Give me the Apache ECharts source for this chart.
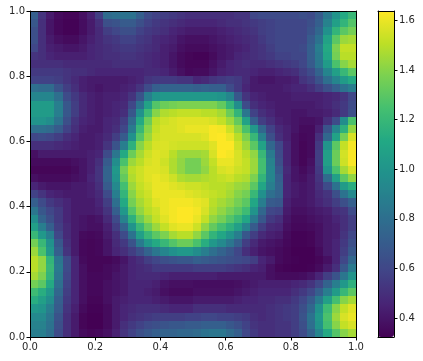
<!DOCTYPE html>
<html><head><meta charset="utf-8">
<style>html,body{margin:0;padding:0;background:#fff}#c{width:423px;height:361px;filter:blur(.4px)}</style>
<script src="https://cdn.jsdelivr.net/npm/echarts@6/dist/echarts.min.js"></script>
</head><body><div id="c"></div>
<script>
const rowsTopToBottom = [
[.72,.52,.42,.36,.34,.34,.38,.44,.56,.78,.80,.82,.82,.72,.62,.58,.56,.54,.52,.50,.50,.50,.50,.50,.50,.52,.52,.60,.62,.62,.62,.62,.62,.64,.62,.70,.85,1.00,1.12,1.20],
[.68,.50,.40,.35,.33,.33,.37,.42,.50,.64,.66,.70,.70,.64,.58,.54,.52,.50,.48,.46,.46,.46,.46,.48,.50,.50,.52,.54,.56,.58,.60,.60,.60,.60,.64,.72,.90,1.06,1.18,1.28],
[.64,.50,.40,.35,.33,.33,.37,.42,.48,.56,.60,.64,.64,.58,.54,.52,.50,.46,.44,.42,.42,.42,.42,.44,.46,.48,.50,.52,.56,.58,.60,.60,.60,.60,.66,.76,.98,1.18,1.30,1.36],
[.64,.50,.42,.38,.36,.36,.40,.44,.48,.52,.54,.58,.58,.54,.52,.48,.46,.44,.40,.38,.38,.38,.40,.42,.44,.46,.48,.50,.54,.58,.60,.60,.60,.60,.70,.82,1.08,1.30,1.44,1.46],
[.60,.50,.44,.42,.40,.40,.42,.46,.48,.50,.52,.54,.54,.52,.50,.48,.44,.42,.38,.36,.36,.36,.38,.40,.42,.44,.46,.50,.52,.56,.60,.60,.60,.62,.72,.88,1.12,1.38,1.52,1.52],
[.52,.50,.46,.44,.44,.44,.44,.46,.48,.50,.50,.52,.52,.50,.48,.46,.44,.40,.36,.34,.33,.33,.36,.40,.42,.46,.48,.50,.52,.54,.58,.58,.60,.60,.72,.86,1.10,1.36,1.50,1.50],
[.50,.50,.50,.50,.48,.48,.48,.48,.48,.48,.50,.50,.50,.50,.48,.46,.44,.40,.36,.34,.34,.34,.38,.42,.46,.48,.50,.48,.48,.50,.52,.54,.56,.60,.70,.84,1.04,1.26,1.40,1.46],
[.54,.54,.54,.54,.52,.50,.50,.48,.46,.46,.46,.46,.46,.46,.48,.48,.46,.42,.38,.35,.36,.36,.40,.44,.46,.48,.48,.46,.44,.44,.46,.48,.50,.56,.62,.74,.92,1.06,1.20,1.30],
[.58,.58,.58,.56,.52,.48,.44,.42,.42,.42,.42,.42,.44,.46,.52,.54,.54,.54,.52,.52,.46,.48,.52,.54,.56,.54,.48,.42,.40,.40,.42,.42,.44,.52,.56,.66,.80,.92,1.04,1.12],
[.80,.78,.78,.66,.56,.50,.44,.42,.40,.42,.42,.44,.46,.52,.62,.72,.74,.74,.74,.74,.72,.74,.72,.72,.62,.54,.46,.42,.42,.42,.42,.44,.46,.46,.50,.56,.64,.72,.82,.88],
[.92,.92,.92,.80,.62,.54,.48,.44,.42,.44,.44,.46,.52,.66,.88,1.00,1.02,1.02,1.02,1.02,1.02,1.02,1.02,1.00,.92,.68,.52,.46,.44,.42,.42,.42,.44,.44,.44,.44,.46,.48,.52,.60],
[1.04,1.04,1.04,.88,.68,.56,.48,.44,.42,.44,.46,.48,.60,.82,1.08,1.28,1.34,1.36,1.38,1.38,1.38,1.38,1.38,1.32,1.18,.96,.62,.50,.46,.44,.42,.42,.42,.42,.42,.44,.46,.50,.54,.62],
[1.04,1.04,1.04,.88,.68,.56,.48,.44,.42,.44,.46,.50,.68,.98,1.22,1.40,1.48,1.50,1.52,1.52,1.52,1.50,1.50,1.46,1.34,1.18,.84,.58,.50,.46,.42,.42,.40,.40,.42,.42,.44,.48,.54,.64],
[1.00,1.00,.96,.82,.64,.52,.46,.44,.42,.46,.48,.56,.78,1.12,1.34,1.50,1.54,1.56,1.58,1.58,1.58,1.58,1.56,1.52,1.44,1.32,1.08,.72,.56,.50,.44,.42,.40,.38,.38,.40,.50,.62,.96,1.26],
[.80,.80,.78,.70,.58,.50,.44,.42,.42,.46,.50,.60,.86,1.20,1.40,1.52,1.56,1.56,1.58,1.60,1.60,1.60,1.63,1.62,1.54,1.42,1.26,1.02,.76,.58,.48,.44,.40,.36,.36,.44,.66,.92,1.16,1.42],
[.60,.62,.60,.56,.50,.46,.42,.42,.44,.48,.56,.70,.98,1.28,1.44,1.54,1.56,1.56,1.56,1.56,1.56,1.58,1.63,1.64,1.60,1.50,1.38,1.20,.90,.64,.50,.44,.38,.35,.36,.50,.76,1.08,1.36,1.56],
[.50,.50,.50,.48,.46,.44,.42,.42,.44,.52,.66,.88,1.16,1.40,1.50,1.56,1.57,1.55,1.54,1.54,1.54,1.54,1.58,1.64,1.64,1.54,1.44,1.30,1.08,.76,.60,.46,.38,.34,.36,.54,1.00,1.30,1.52,1.62],
[.38,.42,.42,.42,.42,.42,.42,.44,.46,.62,.84,1.12,1.34,1.46,1.54,1.58,1.56,1.50,1.44,1.44,1.44,1.46,1.56,1.64,1.62,1.56,1.50,1.42,1.20,.86,.62,.46,.38,.34,.36,.56,1.06,1.34,1.55,1.63],
[.36,.36,.36,.36,.36,.38,.40,.44,.50,.70,.96,1.26,1.44,1.50,1.56,1.58,1.54,1.48,1.42,1.36,1.36,1.44,1.52,1.60,1.60,1.56,1.52,1.44,1.24,.90,.64,.46,.38,.34,.38,.56,1.06,1.34,1.54,1.63],
[.34,.34,.34,.34,.34,.36,.40,.44,.52,.74,1.02,1.36,1.50,1.54,1.58,1.58,1.56,1.48,1.42,1.36,1.36,1.42,1.50,1.56,1.58,1.54,1.52,1.44,1.24,.92,.68,.48,.40,.36,.40,.54,1.00,1.26,1.46,1.56],
[.38,.36,.36,.36,.36,.38,.40,.46,.52,.74,1.00,1.32,1.48,1.54,1.58,1.60,1.58,1.54,1.48,1.46,1.46,1.48,1.50,1.52,1.54,1.50,1.48,1.38,1.18,.92,.72,.46,.40,.38,.42,.52,.78,1.06,1.30,1.42],
[.46,.42,.40,.40,.40,.42,.42,.44,.50,.70,.94,1.24,1.44,1.52,1.56,1.60,1.60,1.58,1.56,1.54,1.54,1.52,1.50,1.50,1.48,1.44,1.42,1.30,1.10,.88,.74,.46,.42,.40,.42,.50,.62,.82,1.04,1.14],
[.58,.52,.46,.44,.42,.42,.42,.44,.48,.62,.88,1.18,1.40,1.50,1.54,1.60,1.60,1.60,1.60,1.58,1.56,1.54,1.52,1.50,1.46,1.40,1.36,1.20,.98,.80,.74,.46,.42,.40,.42,.48,.52,.64,.82,.94],
[.72,.62,.54,.50,.46,.42,.42,.42,.46,.56,.80,1.12,1.36,1.46,1.52,1.58,1.60,1.62,1.62,1.62,1.60,1.58,1.50,1.46,1.42,1.36,1.30,1.10,.88,.70,.68,.44,.40,.40,.42,.46,.50,.56,.64,.72],
[.84,.68,.60,.54,.46,.42,.42,.42,.44,.52,.72,1.02,1.28,1.42,1.50,1.54,1.60,1.62,1.64,1.64,1.62,1.56,1.48,1.42,1.36,1.30,1.22,1.00,.76,.60,.58,.42,.38,.38,.40,.42,.44,.50,.52,.62],
[.96,.74,.64,.54,.46,.42,.40,.38,.40,.48,.62,.90,1.16,1.34,1.44,1.52,1.58,1.62,1.64,1.64,1.60,1.52,1.42,1.36,1.28,1.20,1.10,.86,.68,.54,.50,.40,.36,.36,.38,.40,.42,.46,.50,.56],
[1.06,.88,.72,.56,.48,.42,.40,.38,.38,.44,.56,.74,1.00,1.20,1.34,1.44,1.52,1.58,1.60,1.60,1.54,1.42,1.32,1.24,1.16,1.06,.90,.70,.56,.48,.46,.38,.35,.35,.36,.38,.42,.44,.50,.56],
[1.20,1.02,.88,.60,.48,.42,.36,.35,.36,.42,.50,.62,.82,1.06,1.20,1.30,1.38,1.46,1.50,1.50,1.42,1.30,1.18,1.10,1.00,.88,.68,.56,.48,.44,.42,.36,.33,.33,.34,.38,.42,.44,.52,.60],
[1.36,1.20,.98,.68,.50,.42,.35,.34,.35,.40,.48,.54,.66,.86,1.02,1.12,1.20,1.28,1.34,1.34,1.26,1.14,1.02,.94,.84,.72,.56,.48,.42,.40,.38,.35,.33,.33,.34,.38,.42,.46,.54,.64],
[1.44,1.26,1.02,.72,.52,.42,.35,.34,.35,.40,.46,.50,.56,.64,.74,.84,.92,.98,1.02,1.02,.96,.88,.80,.74,.68,.60,.50,.44,.40,.38,.36,.34,.32,.32,.32,.36,.42,.46,.56,.68],
[1.50,1.42,1.18,.84,.62,.46,.36,.34,.34,.34,.36,.40,.46,.50,.56,.60,.64,.66,.68,.68,.72,.70,.68,.66,.64,.62,.60,.56,.46,.42,.36,.34,.33,.32,.32,.34,.38,.46,.60,.76],
[1.50,1.42,1.20,.86,.62,.46,.38,.34,.34,.36,.38,.42,.46,.48,.50,.54,.54,.54,.54,.54,.56,.56,.56,.56,.54,.52,.50,.46,.44,.38,.34,.33,.32,.32,.33,.36,.42,.50,.68,.86],
[1.46,1.38,1.18,.84,.60,.46,.38,.35,.35,.36,.40,.42,.46,.48,.48,.48,.46,.44,.44,.44,.44,.44,.44,.42,.42,.42,.42,.42,.42,.38,.36,.36,.36,.37,.40,.46,.56,.66,.84,1.00],
[1.36,1.30,1.12,.80,.58,.46,.38,.35,.35,.38,.40,.42,.46,.46,.46,.44,.40,.38,.38,.38,.37,.37,.37,.37,.37,.38,.40,.42,.44,.44,.44,.44,.46,.48,.52,.60,.74,.88,1.02,1.16],
[1.22,1.14,1.02,.76,.56,.46,.38,.35,.35,.38,.40,.42,.46,.46,.44,.42,.38,.36,.36,.36,.38,.38,.38,.38,.38,.40,.42,.44,.46,.46,.46,.46,.50,.54,.60,.72,.88,1.04,1.20,1.30],
[1.14,1.06,.96,.72,.54,.46,.38,.34,.34,.38,.42,.44,.46,.46,.46,.44,.42,.40,.40,.40,.42,.42,.42,.42,.42,.44,.46,.46,.48,.48,.50,.50,.54,.60,.70,.86,1.06,1.24,1.40,1.46],
[1.02,1.00,.88,.70,.52,.44,.36,.33,.33,.36,.42,.46,.48,.50,.50,.50,.48,.46,.46,.46,.50,.50,.50,.50,.48,.48,.48,.48,.48,.50,.52,.54,.56,.64,.76,.98,1.22,1.40,1.52,1.58],
[.94,.94,.84,.66,.50,.42,.34,.32,.32,.36,.42,.46,.50,.52,.54,.56,.56,.56,.56,.58,.58,.60,.60,.58,.58,.56,.54,.50,.48,.50,.52,.54,.56,.66,.82,1.02,1.26,1.44,1.56,1.60],
[.90,.90,.82,.64,.50,.42,.34,.32,.32,.36,.42,.50,.54,.58,.62,.64,.66,.68,.68,.70,.70,.72,.72,.72,.68,.64,.58,.52,.50,.50,.52,.52,.56,.64,.80,1.00,1.24,1.40,1.52,1.56],
[.88,.88,.80,.62,.50,.42,.36,.34,.35,.38,.44,.52,.58,.64,.68,.72,.74,.74,.76,.76,.78,.82,.84,.84,.78,.72,.60,.54,.50,.50,.52,.52,.56,.62,.74,.92,1.12,1.28,1.40,1.46]
];
const xTickValues = [0, .2, .4, .6, .8, 1];
const barTickValues = [.4, .6, .8, 1, 1.2, 1.4, 1.6];
const colorMin = .323, colorMax = 1.639;
const viridis = ['#440154','#482475','#414487','#355f8d','#2a788e','#21918c','#22a884','#44bf70','#7ad151','#bddf26','#fde725'];

const n = rowsTopToBottom.length;
const cats = rowsTopToBottom[0].map((_, i) => i);
const data = [];
rowsTopToBottom.forEach((r, i) => r.forEach((v, j) => data.push([j, n - 1 - i, v])));

const font = {color:'#262626', fontFamily:'DejaVu Sans', fontSize:10};
const line = {lineStyle:{color:'#000', width:1}};
const chart = echarts.init(document.getElementById('c'), null, {renderer:'canvas'});
function valX(pos, labels){
  return {type:'value', gridIndex:0, position:pos, min:0, max:1, interval:.2, z:10,
    axisLine:{show:true, onZero:false, ...line}, axisTick:{show:labels, length:3.5, ...line},
    axisLabel:{show:labels, margin:5, formatter:v=>v.toFixed(1), ...font}, splitLine:{show:false}};
}
function renderCell(params, api){
  const c = api.coord([api.value(0), api.value(1)]);
  const s = api.size([1, 1]);
  const x0 = Math.round(c[0] - s[0] / 2), x1 = Math.round(c[0] + s[0] / 2);
  const y0 = Math.round(c[1] - s[1] / 2), y1 = Math.round(c[1] + s[1] / 2);
  return {type:'rect', shape:{x:x0, y:y0, width:x1 - x0, height:y1 - y0}, style:{fill:api.visual('color')}};
}
chart.setOption({
  animation:false, backgroundColor:'#fff',
  grid:[
    {left:30, top:11, width:326, height:326},
    {left:378, top:11, width:16, height:326}
  ],
  xAxis:[
    {type:'category', data:cats, gridIndex:0, show:false},
    valX('bottom',true), valX('top',false),
    {type:'category', data:[0], gridIndex:1, position:'top', z:10, axisLine:{show:true, onZero:false, ...line}, axisTick:{show:false}, axisLabel:{show:false}},
    {type:'category', data:[0], gridIndex:1, position:'bottom', z:10, axisLine:{show:true, onZero:false, ...line}, axisTick:{show:false}, axisLabel:{show:false}}
  ],
  yAxis:[
    {type:'category', data:cats, gridIndex:0, show:false},
    valX('left',true), valX('right',false),
    {type:'value', gridIndex:1, position:'right', min:colorMin, max:colorMax, z:10,
      axisLine:{show:true, onZero:false, ...line},
      axisTick:{show:true, length:3.5, customValues:barTickValues, ...line},
      axisLabel:{show:true, margin:5, customValues:barTickValues, formatter:v=>(+v).toFixed(1), ...font},
      splitLine:{show:false}},
    {type:'value', gridIndex:1, position:'left', min:colorMin, max:colorMax, z:10,
      axisLine:{show:true, onZero:false, ...line}, axisTick:{show:false}, axisLabel:{show:false}, splitLine:{show:false}}
  ],
  visualMap:{type:'continuous', seriesIndex:0, dimension:2, min:colorMin, max:colorMax, calculable:false, realtime:false,
    left:378, top:11, itemWidth:16, itemHeight:326, padding:0, text:null, showLabel:false,
    textStyle:{fontSize:0}, inRange:{color:viridis}},
  series:[{type:'custom', xAxisIndex:0, yAxisIndex:0, data, encode:{x:0, y:1}, renderItem:renderCell, progressive:0, silent:true}]
});
</script></body></html>
